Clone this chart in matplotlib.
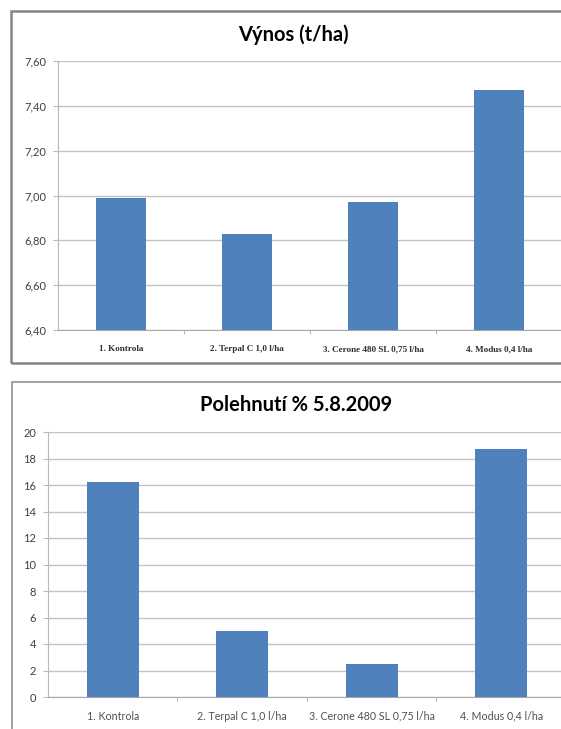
import matplotlib.pyplot as plt
from matplotlib.patches import Rectangle
from matplotlib.ticker import FixedLocator, FuncFormatter

W, H = 561, 729

varianty = ['1. Kontrola',
            '2. Terpal C 1,0 l/ha',
            '3. Cerone 480 SL 0,75 l/ha',
            '4. Modus 0,4 l/ha']
vynos = [6.99, 6.83, 6.97, 7.47]
polehnuti = [16.25, 4.95, 2.5, 18.75]

bar_color = '#4F81BD'
grid_color = '#c2c2c2'
text_color = '#404040'


def px_box(left, top, right, bottom):
    # pixel box -> figure fraction [l, b, w, h]
    return [left / W, 1 - bottom / H, (right - left) / W, (bottom - top) / H]


def style_axes(ax, ymin, ymax, ystep, fmt, xfont):
    ax.set_xlim(-0.5, 3.5)
    ax.set_ylim(ymin, ymax)
    n = int(round((ymax - ymin) / ystep))
    ax.yaxis.set_major_locator(FixedLocator([ymin + i * ystep for i in range(n + 1)]))
    ax.yaxis.set_major_formatter(FuncFormatter(fmt))
    ax.grid(axis='y', color=grid_color, linewidth=1.0)
    ax.set_axisbelow(True)
    for s in ['top', 'right']:
        ax.spines[s].set_visible(False)
    ax.spines['left'].set_color('#b8b8b8')
    ax.spines['bottom'].set_color('#a8a8a8')
    ax.tick_params(axis='y', length=3.5, width=0.8, color='#b8b8b8', pad=5,
                   labelsize=8, labelcolor=text_color)
    ax.set_xticks(range(len(varianty)))
    ax.set_xticklabels(varianty, **xfont)
    ax.set_xticks([0.5, 1.5, 2.5], minor=True)
    ax.tick_params(axis='x', which='major', length=0)
    ax.tick_params(axis='x', which='minor', length=3, width=0.8, color='#b8b8b8')
    for lab in ax.get_yticklabels():
        lab.set_family('Lato')


plt.rcParams['font.family'] = ['Lato', 'DejaVu Sans']
fig = plt.figure(figsize=(W / 100, H / 100), dpi=100)
fig.patch.set_facecolor('white')

# ramecky kolem grafu
fig.patches.append(Rectangle((11 / W, 1 - 363 / H), 1.1, (363 - 11) / H, fill=False,
                             edgecolor='#858585', linewidth=1.8,
                             transform=fig.transFigure, clip_on=False))
fig.patches.append(Rectangle((12 / W, -0.1), 1.1, 0.1 + 1 - 382 / H, fill=False,
                             edgecolor='#8a8a8a', linewidth=1.1,
                             transform=fig.transFigure, clip_on=False))

# Vynos
ax1 = fig.add_axes(px_box(58, 61, 562, 330))
ax1.bar(range(len(vynos)), vynos, width=0.4, color=bar_color, zorder=3)
style_axes(ax1, 6.4, 7.6, 0.2, lambda v, p: f'{v:.2f}'.replace('.', ','),
           dict(family='Liberation Serif', fontweight='bold', fontsize=6.6,
                color='#303030'))
ax1.tick_params(axis='x', which='major', pad=11)
fig.text(293.5 / W, 1 - 35 / H, 'Výnos (t/ha)', ha='center', va='center',
         fontsize=14.5, fontweight='bold', color='black')

# Polehnuti
ax2 = fig.add_axes(px_box(48, 432, 566, 697))
ax2.bar(range(len(polehnuti)), polehnuti, width=0.4, color=bar_color, zorder=3)
style_axes(ax2, 0, 20, 2, lambda v, p: f'{v:.0f}',
           dict(family='Lato', fontsize=7.7, color='#505050'))
ax2.tick_params(axis='x', which='major', pad=10)
fig.text(296 / W, 1 - 405 / H, 'Polehnutí % 5.8.2009', ha='center', va='center',
         fontsize=14.5, fontweight='bold', color='black')

fig.savefig('out.png', dpi=100)
